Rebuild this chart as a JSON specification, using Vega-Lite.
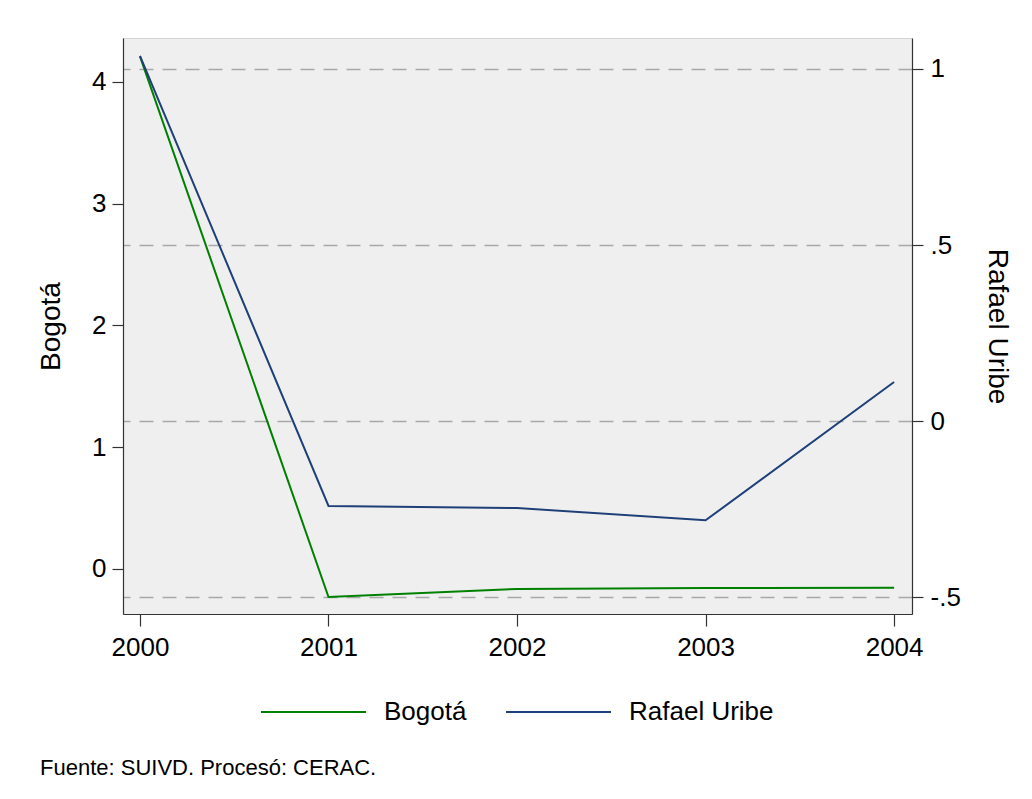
{
  "$schema": "https://vega.github.io/schema/vega-lite/v6.json",
  "width": 789,
  "height": 576,
  "autosize": {"type": "none"},
  "padding": {"left": 123, "top": 38, "right": 120, "bottom": 185},
  "background": "white",
  "config": {
    "font": "Liberation Sans",
    "view": {"fill": "#efefef", "stroke": "#d4d4d4", "strokeWidth": 1},
    "axis": {
      "labelFont": "Liberation Sans",
      "titleFont": "Liberation Sans",
      "labelFontSize": 26,
      "titleFontSize": 28,
      "titleFontWeight": "normal",
      "labelColor": "#000000",
      "titleColor": "#000000",
      "tickColor": "#333333",
      "domainColor": "#333333",
      "tickSize": 11,
      "tickWidth": 1.2,
      "domainWidth": 1.2
    }
  },
  "data": {
    "values": [
      {"year": 2000, "serie": "Bogotá", "value": 4.21},
      {"year": 2001, "serie": "Bogotá", "value": -0.23},
      {"year": 2002, "serie": "Bogotá", "value": -0.164},
      {"year": 2003, "serie": "Bogotá", "value": -0.156},
      {"year": 2004, "serie": "Bogotá", "value": -0.155},
      {"year": 2000, "serie": "Rafael Uribe", "value": 1.037},
      {"year": 2001, "serie": "Rafael Uribe", "value": -0.241},
      {"year": 2002, "serie": "Rafael Uribe", "value": -0.247},
      {"year": 2003, "serie": "Rafael Uribe", "value": -0.282},
      {"year": 2004, "serie": "Rafael Uribe", "value": 0.111}
    ]
  },
  "title": {
    "text": "Fuente: SUIVD. Procesó: CERAC.",
    "orient": "bottom",
    "anchor": "start",
    "frame": "group",
    "dx": -83,
    "offset": 31,
    "fontSize": 22,
    "fontWeight": "normal",
    "font": "Liberation Sans",
    "color": "#000000"
  },
  "encoding": {
    "x": {
      "field": "year",
      "type": "quantitative",
      "scale": {"domain": [1999.91, 2004.095], "nice": false, "zero": false},
      "axis": {
        "title": null,
        "values": [2000, 2001, 2002, 2003, 2004],
        "format": "d",
        "grid": false,
        "tickSize": 12,
        "labelPadding": 8
      }
    },
    "color": {
      "field": "serie",
      "type": "nominal",
      "scale": {"domain": ["Bogotá", "Rafael Uribe"], "range": ["#008000", "#1f3f78"]},
      "legend": {
        "title": null,
        "orient": "none",
        "direction": "horizontal",
        "legendX": 137,
        "legendY": 659,
        "symbolType": "stroke",
        "symbolSize": 11025,
        "symbolStrokeWidth": 2,
        "clipHeight": 30,
        "labelFontSize": 26,
        "labelFont": "Liberation Sans",
        "labelColor": "#000000",
        "labelOffset": 17,
        "columnPadding": 38
      }
    }
  },
  "layer": [
    {
      "transform": [{"filter": "datum.serie === 'Bogotá'"}],
      "mark": {"type": "line", "strokeWidth": 2},
      "encoding": {
        "y": {
          "field": "value",
          "type": "quantitative",
          "scale": {"domain": [-0.37, 4.361], "nice": false, "zero": false},
          "axis": {
            "orient": "left",
            "title": "Bogotá",
            "values": [0, 1, 2, 3, 4],
            "format": "d",
            "grid": false,
            "labelPadding": 6,
            "titlePadding": 26
          }
        }
      }
    },
    {
      "transform": [{"filter": "datum.serie === 'Rafael Uribe'"}],
      "mark": {"type": "line", "strokeWidth": 2},
      "encoding": {
        "y": {
          "field": "value",
          "type": "quantitative",
          "scale": {"domain": [-0.548, 1.088], "nice": false, "zero": false},
          "axis": {
            "orient": "right",
            "title": "Rafael Uribe",
            "titleAngle": 90,
            "values": [-0.5, 0, 0.5, 1],
            "labelExpr": "replace(replace(format(datum.value, '~g'), '0.', '.'), '\u2212', '-')",
            "grid": true,
            "gridColor": "#a8a8a8",
            "gridDash": [14, 9],
            "gridWidth": 1.5,
            "labelPadding": 7,
            "titlePadding": 22
          }
        }
      }
    }
  ],
  "resolve": {"scale": {"y": "independent"}}
}
